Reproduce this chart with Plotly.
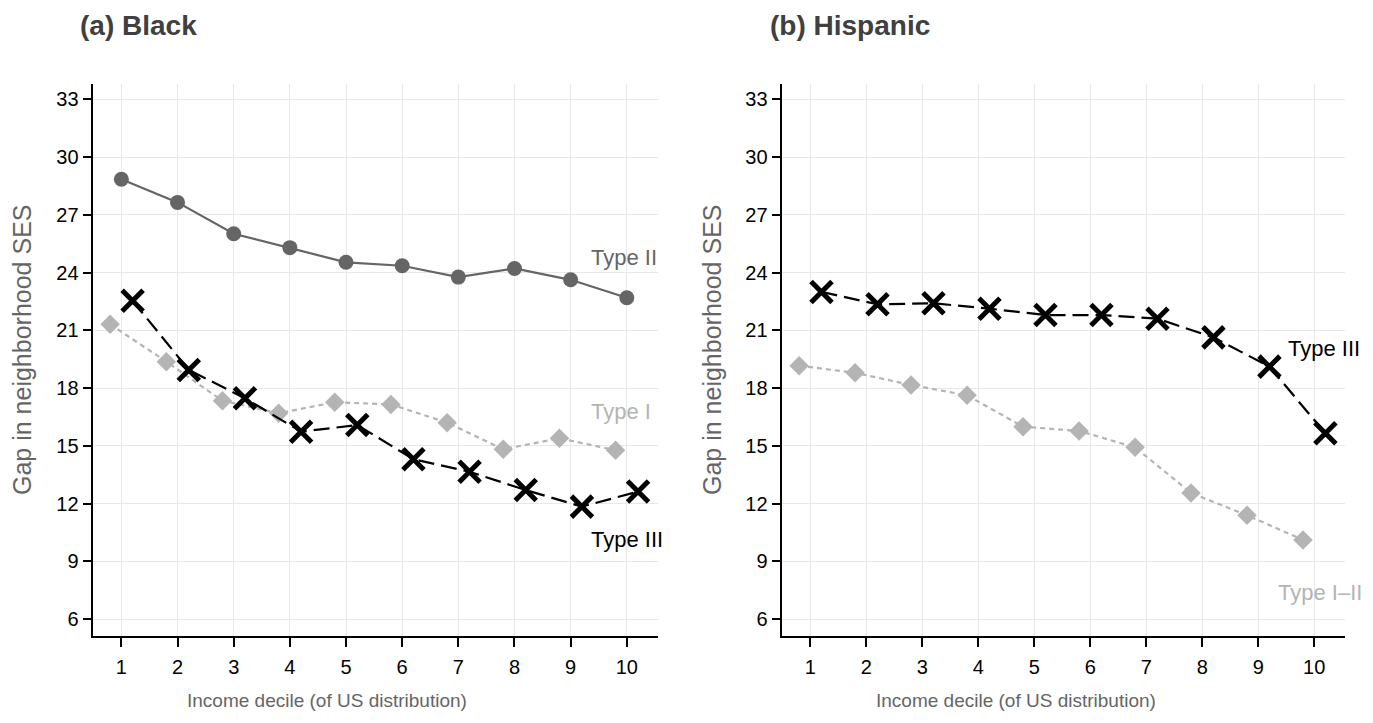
import plotly.graph_objects as go

deciles = [1, 2, 3, 4, 5, 6, 7, 8, 9, 10]
y_ticks = [6, 9, 12, 15, 18, 21, 24, 27, 30, 33]

# (a) Black
black_type2 = [28.85, 27.65, 26.02, 25.30, 24.54, 24.36, 23.77, 24.22, 23.63, 22.70]
black_type1 = [21.32, 19.38, 17.35, 16.70, 17.27, 17.16, 16.21, 14.83, 15.40, 14.78]
black_type3 = [22.54, 18.95, 17.48, 15.74, 16.09, 14.31, 13.66, 12.71, 11.85, 12.63]

# (b) Hispanic
hisp_type12 = [19.17, 18.80, 18.17, 17.63, 16.00, 15.78, 14.93, 12.56, 11.40, 10.12]
hisp_type3 = [23.00, 22.36, 22.41, 22.13, 21.80, 21.80, 21.61, 20.64, 19.12, 15.66]

OFF = 0.2
FONT = "Liberation Sans, Arial, sans-serif"
C_DARK = "#656565"
C_LIGHT = "#b4b4b4"

W, H = 1373, 723
T, B = 76, 95
PLOT_H = H - T - B

def shift(xs, d):
    return [x + d for x in xs]

fig = go.Figure()

def add_circle(xs, ys, xa, ya):
    fig.add_trace(go.Scatter(x=xs, y=ys, xaxis=xa, yaxis=ya, mode="lines+markers",
                             line=dict(color=C_DARK, width=2.2),
                             marker=dict(symbol="circle", size=15, color=C_DARK),
                             showlegend=False, hoverinfo="skip"))

def add_diamond(xs, ys, xa, ya):
    fig.add_trace(go.Scatter(x=xs, y=ys, xaxis=xa, yaxis=ya, mode="lines+markers",
                             line=dict(color=C_LIGHT, width=2.2, dash="5px,4px"),
                             marker=dict(symbol="diamond", size=15, color=C_LIGHT),
                             showlegend=False, hoverinfo="skip"))

def add_cross(xs, ys, xa, ya):
    fig.add_trace(go.Scatter(x=xs, y=ys, xaxis=xa, yaxis=ya, mode="lines+markers",
                             line=dict(color="black", width=2.2, dash="16px,7px"),
                             marker=dict(symbol="x-thin", size=21,
                                         line=dict(color="black", width=5)),
                             showlegend=False, hoverinfo="skip"))

add_circle(deciles, black_type2, "x", "y")
add_diamond(shift(deciles, -OFF), black_type1, "x", "y")
add_cross(shift(deciles, OFF), black_type3, "x", "y")

add_diamond(shift(deciles, -OFF), hisp_type12, "x2", "y2")
add_cross(shift(deciles, OFF), hisp_type3, "x2", "y2")

xcommon = dict(range=[0.5, 10.55], tickmode="array", tickvals=deciles,
               ticktext=[str(d) for d in deciles],
               showgrid=True, gridcolor="#e8e8e8", gridwidth=1.2,
               showline=True, linecolor="black", linewidth=1.5,
               ticks="outside", ticklen=9, tickcolor="black", tickwidth=1.5,
               ticklabelstandoff=3,
               tickfont=dict(family=FONT, size=20, color="black"),
               zeroline=False)
ycommon = dict(range=[5.13, 33.8], tickmode="array", tickvals=y_ticks,
               ticktext=[str(v) for v in y_ticks],
               showgrid=True, gridcolor="#e8e8e8", gridwidth=1.2,
               showline=True, linecolor="black", linewidth=1.5,
               ticks="outside", ticklen=9, tickcolor="black", tickwidth=1.5,
               tickfont=dict(family=FONT, size=20, color="black"),
               zeroline=False)

fig.update_layout(
    width=W, height=H,
    paper_bgcolor="white", plot_bgcolor="white",
    margin=dict(l=0, r=0, t=T, b=B),
    xaxis=dict(domain=[85.3 / W, 649.7 / W], anchor="y", **xcommon),
    yaxis=dict(domain=[0, 1], anchor="x", **ycommon),
    xaxis2=dict(domain=[774.3 / W, 1337 / W], anchor="y2", **xcommon),
    yaxis2=dict(domain=[0, 1], anchor="x2", **ycommon),
    font=dict(family=FONT),
)

def lab(text, x, y, xref, yref, color):
    fig.add_annotation(text=text, x=x, y=y, xref=xref, yref=yref, showarrow=False,
                       xanchor="left", yanchor="middle",
                       font=dict(family=FONT, size=22, color=color))

lab("Type II", 9.32, 24.8, "x", "y", C_DARK)
lab("Type I", 9.32, 16.78, "x", "y", C_LIGHT)
lab("Type III", 9.32, 10.12, "x", "y", "black")
lab("Type III", 9.5, 20.07, "x2", "y2", "black")
lab("Type I\u2013II", 9.32, 7.38, "x2", "y2", C_LIGHT)

def py(px):
    return 1 - (px - T) / PLOT_H

# panel titles
for txt, px in [("(a) Black", 70), ("(b) Hispanic", 760)]:
    fig.add_annotation(text="<b>%s</b>" % txt, x=px / W, y=py(17),
                       xref="paper", yref="paper", yanchor="middle", xanchor="left",
                       showarrow=False, font=dict(family=FONT, size=28, color="#404040"))

# axis titles
for cx in [319, 1008]:
    fig.add_annotation(text="Income decile (of US distribution)", x=cx / W, y=py(692),
                       xref="paper", yref="paper", xanchor="center", yanchor="middle",
                       showarrow=False, font=dict(family=FONT, size=19, color=C_DARK))
for cx in [14, 704]:
    fig.add_annotation(text="Gap in neighborhood SES", x=cx / W, y=py(342),
                       xref="paper", yref="paper", xanchor="center", yanchor="middle",
                       textangle=-90, showarrow=False,
                       font=dict(family=FONT, size=25, color=C_DARK))

fig.write_html("out.html")
